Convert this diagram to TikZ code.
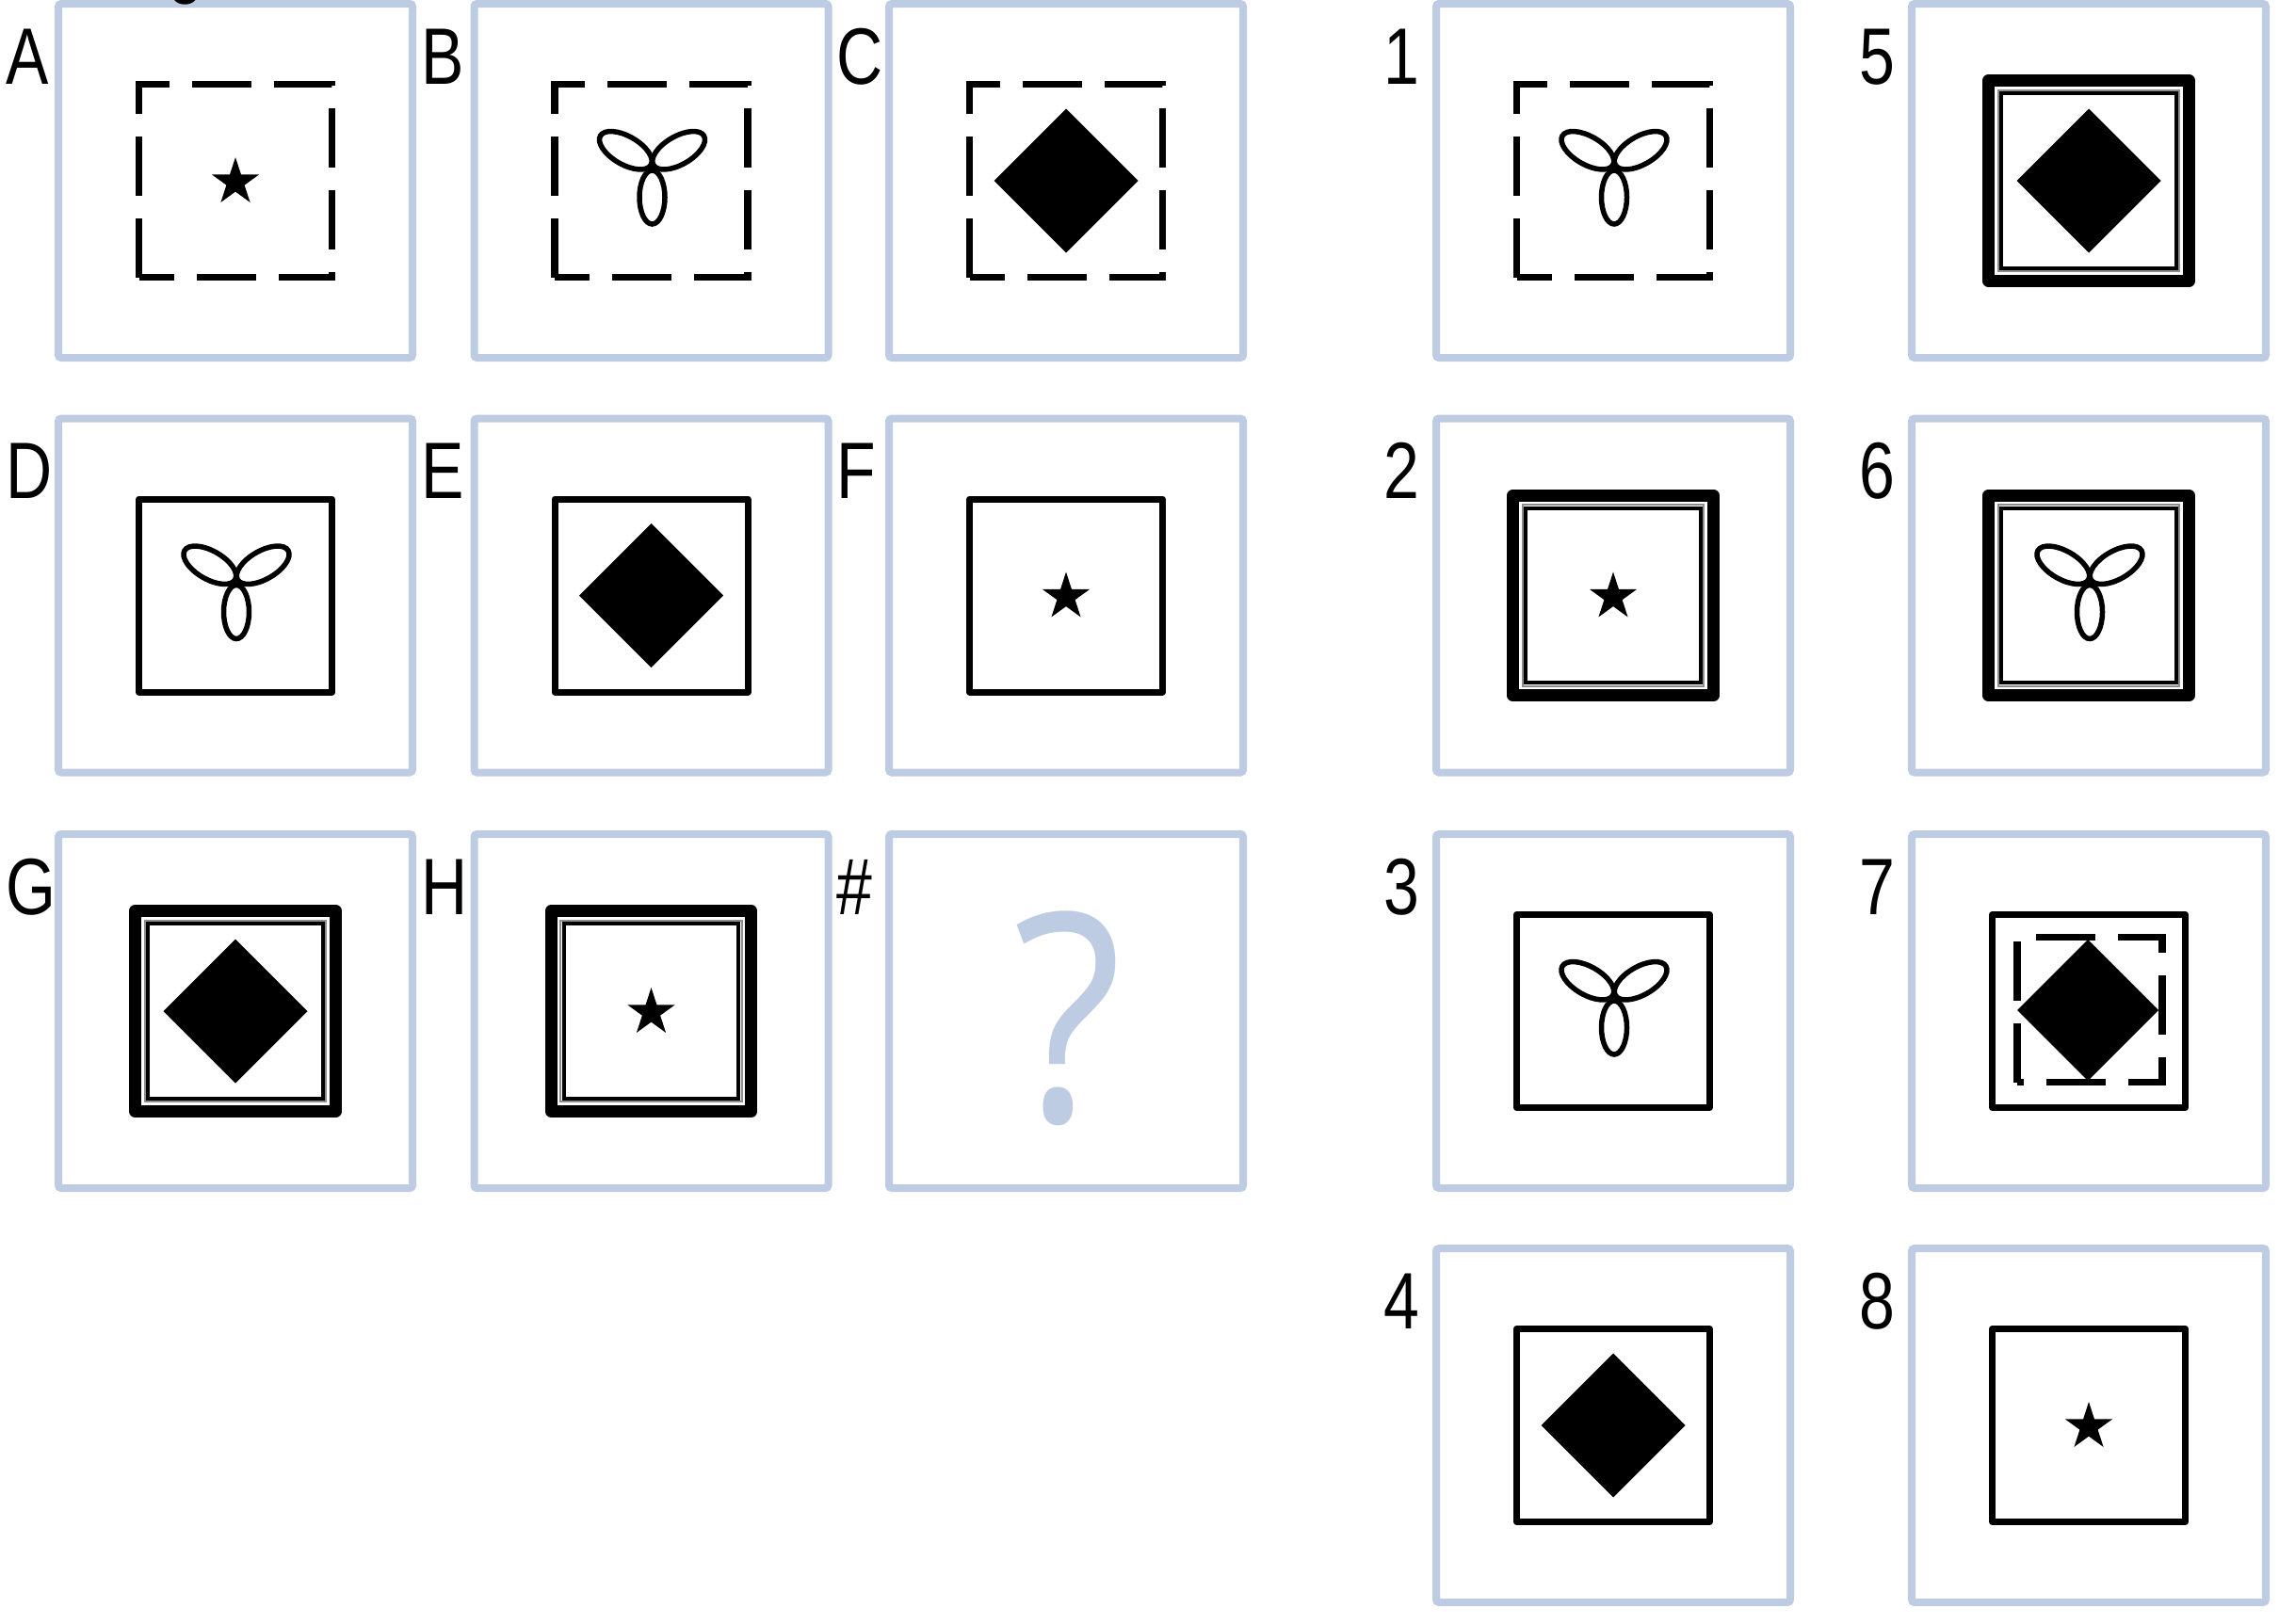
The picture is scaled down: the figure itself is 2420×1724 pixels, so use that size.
\documentclass[tikz,border=0pt]{standalone}
\usepackage{fontspec}
\setmainfont{Liberation Sans}
\newfontfamily\qfont{Open Sans}
\usetikzlibrary{calc}
\definecolor{frameblue}{RGB}{190,204,227}
\tikzset{
  cell/.style={draw=frameblue, line width=8pt, rounded corners=3pt, minimum size=376pt, inner sep=0pt, outer sep=0pt},
  lbl/.style={font=\fontsize{85}{85}\selectfont, anchor=base west, inner sep=0pt, outer sep=0pt},
  dashline/.style={line width=7.3pt, dash pattern=on 63pt off 24pt},
  lobe/.style={line width=5.5pt},
  pics/starfig/.style={code={
    \fill[shift={(0,1.5)}] (270:26.5) -- (306:10.1) -- (342:26.5) -- (18:10.1) -- (54:26.5) -- (90:10.1) -- (126:26.5) -- (162:10.1) -- (198:26.5) -- (234:10.1) -- cycle;}},
  pics/diamondfig/.style={code={
    \fill (0,-#1) -- (#1,0) -- (0,#1) -- (-#1,0) -- cycle;}},
  pics/trefoil/.style={code={
    \begin{scope}[shift={(1,-16)}]
      \draw[lobe, rotate=270] (33.5,0) ellipse [x radius=28.5, y radius=13.5];
      \draw[lobe, rotate=150] (32.5,0) ellipse [x radius=31, y radius=15];
      \draw[lobe, rotate=30] (32.5,0) ellipse [x radius=31, y radius=15];
    \end{scope}}},
  pics/thinfig/.style={code={
    \draw[line width=7pt, line join=round] (-102.5,-102.5) rectangle (102.5,102.5);}},
  pics/dashfig/.style={code={
    \draw[dashline] (-#1,#1) -- (-#1,-#1) -- (#1,-#1) -- (#1,#1) -- cycle;}},
  pics/doublefig/.style={code={
    \draw[line width=13.3pt, line join=round] (-106.3,-106.3) rectangle (106.3,106.3);
    \draw[black!45, line width=2.3pt] (-96.2,-96.2) rectangle (96.2,96.2);
    \draw[line width=4.3pt] (-92.8,-92.8) rectangle (92.8,92.8);}},
}
\begin{document}
\begin{tikzpicture}[x=1pt,y=-1pt]
\fill[white] (0,0) rectangle (2420,1724);
\useasboundingbox (0,0) rectangle (2420,1724);

% cell frames
\node[cell] (cA) at (250,192) {};
\node[cell] (cB) at (691.5,192) {};
\node[cell] (cC) at (1132,192) {};
\node[cell] (cD) at (250,632.5) {};
\node[cell] (cE) at (691.5,632.5) {};
\node[cell] (cF) at (1132,632.5) {};
\node[cell] (cG) at (250,1074) {};
\node[cell] (cH) at (691.5,1074) {};
\node[cell] (cQ) at (1132,1074) {};
\node[cell] (c1) at (1713,192) {};
\node[cell] (c2) at (1713,632.5) {};
\node[cell] (c3) at (1713,1074) {};
\node[cell] (c4) at (1713,1514) {};
\node[cell] (c5) at (2218,192) {};
\node[cell] (c6) at (2218,632.5) {};
\node[cell] (c7) at (2218,1074) {};
\node[cell] (c8) at (2218,1514) {};

% labels
\foreach \c/\t in {A/A,B/B,C/C,D/D,E/E,F/F,G/G,H/H,Q/\#,1/1,2/2,3/3,4/4,5/5,6/6,7/7,8/8}
  \node[lbl] (l\c) at ($(c\c.north west)+(-56,85)$) {\scalebox{0.8}[1]{\t}};

% fragment of a cut-off title letter
\node[font=\fontsize{85}{85}\selectfont, anchor=base, inner sep=0pt] (gfrag) at (197,-13) {\scalebox{0.8}[1]{g}};

% contents
\pic at (cA) {dashfig=102.5}; \pic at (cA) {starfig};
\pic at (cB) {dashfig=102.5}; \pic at (cB) {trefoil};
\pic at (cC) {dashfig=102.5}; \pic at (cC) {diamondfig=76.5};
\pic at (cD) {thinfig}; \pic at (cD) {trefoil};
\pic at (cE) {thinfig}; \pic at (cE) {diamondfig=76.5};
\pic at (cF) {thinfig}; \pic at (cF) {starfig};
\pic at (cG) {doublefig}; \pic at (cG) {diamondfig=76.5};
\pic at (cH) {doublefig}; \pic at (cH) {starfig};
\node[font=\qfont\fontsize{309}{309}\selectfont, text=frameblue, anchor=base, inner sep=0pt] (qm) at (1134,1191) {\scalebox{0.87}[1]{?}};

\pic at (c1) {dashfig=102.5}; \pic at (c1) {trefoil};
\pic at (c2) {doublefig}; \pic at (c2) {starfig};
\pic at (c3) {thinfig}; \pic at (c3) {trefoil};
\pic at (c4) {thinfig}; \pic at (c4) {diamondfig=76.5};
\pic at (c5) {doublefig}; \pic at (c5) {diamondfig=76.5};
\pic at (c6) {doublefig}; \pic at (c6) {trefoil};
\pic at (c7) {thinfig}; \pic at ($(c7)+(1,-1.5)$) {dashfig=77}; \pic at ($(c7)+(-1,-1)$) {diamondfig=75};
\pic at (c8) {thinfig}; \pic at (c8) {starfig};
\end{tikzpicture}
\end{document}
